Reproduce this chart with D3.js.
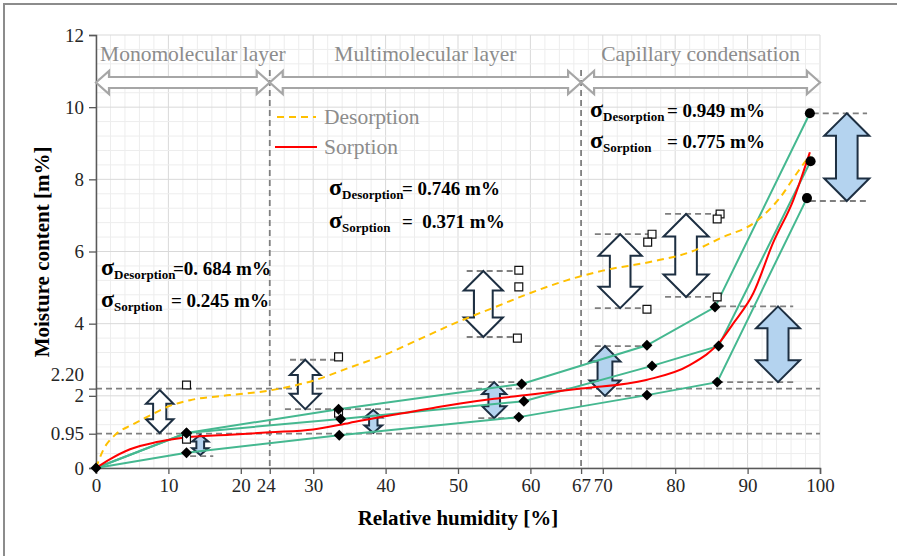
<!DOCTYPE html>
<html>
<head>
<meta charset="utf-8">
<script src="https://cdn.jsdelivr.net/npm/d3@7"></script>
<style>
  body { margin: 0; background: #fff; }
  svg, svg text { font-family: "Liberation Serif", "DejaVu Serif", serif; }
</style>
</head>
<body>
<svg id="chart" width="897" height="556" font-family="Liberation Serif, serif"></svg>
<script>
// axis ticks
const xTicks = [0, 10, 20, 24, 30, 40, 50, 60, 67, 70, 80, 90, 100];
const yTicks = [0, 0.95, 2, 2.2, 4, 6, 8, 10, 12];
const yTickLabels = ["0", "0.95", "2", "2.20", "4", "6", "8", "10", "12"];

// sorption regions
const regionBounds = [0, 24, 67, 100];
const regionNames = ["Monomolecular layer", "Multimolecular layer", "Capillary condensation"];
const refX = [24, 67];
const refY = [0.95, 2.2];

// fitted curves [RH %, moisture m%]
const desorptionCurve = [[0, 0], [1, 0.5], [2.6, 0.91], [5, 1.2], [7, 1.41], [10.2, 1.72], [13, 1.88],
  [18.5, 2.02], [24, 2.15], [30, 2.42], [35, 2.78], [40, 3.15], [45, 3.6], [50, 4.05], [55, 4.45],
  [60, 4.85], [65, 5.2], [70, 5.47], [76.5, 5.71], [82, 5.98], [86.6, 6.4], [90.8, 6.78],
  [94.5, 7.5], [96.8, 8.17], [98.6, 8.67]];
const sorptionCurve = [[0, 0], [1.9, 0.24], [4.7, 0.52], [8.4, 0.72], [12, 0.84], [18.5, 0.92],
  [24, 0.99], [30, 1.07], [35, 1.25], [39.5, 1.42], [43.4, 1.55], [47.5, 1.7], [50.3, 1.79],
  [55, 1.92], [59.5, 2.02], [67, 2.2], [76, 2.44], [82, 2.85], [86.2, 3.5], [88, 4.0],
  [90.8, 4.85], [93.5, 6.23], [96.3, 7.42], [98.6, 8.75]];

// measured sorption series
const seriesUpper = [[0, 0], [12.5, 0.97], [33.5, 1.63], [58.8, 2.33], [76.1, 3.4], [85.5, 4.46], [98.6, 9.83]];
const seriesMiddle = [[0, 0], [12.5, 0.97], [33.8, 1.36], [59.1, 1.85], [76.8, 2.83], [86, 3.38], [98.7, 8.5]];
const seriesLower = [[0, 0], [12.5, 0.42], [33.6, 0.91], [58.4, 1.41], [76.1, 2.02], [85.8, 2.38], [98.2, 7.48]];

// measured desorption points
const desorptionPoints = [[12.5, 2.3], [12.5, 0.8], [33.5, 3.08], [33.5, 1.52], [58.4, 5.48], [58.4, 5.02],
  [58.2, 3.6], [76.8, 6.48], [76.2, 6.26], [76.1, 4.4], [86.2, 7.04], [85.8, 6.9], [85.8, 4.74]];

// spread arrows [RH, low, high, kind]
const rangeArrows = [[8.8, 0.97, 2.16, "d"], [14.4, 0.36, 0.92, "s"], [28.9, 1.63, 3.0, "d"],
  [38.3, 0.97, 1.61, "s"], [53.5, 3.63, 5.46, "d"], [55.0, 1.38, 2.38, "s"], [72.4, 4.43, 6.48, "d"],
  [81.5, 4.74, 7.04, "d"], [70.3, 2.0, 3.38, "s"], [94.2, 2.38, 4.48, "s"], [103.7, 7.4, 9.83, "s"]];
// spread limits [RH from, RH to, m%]
const rangeLines = [[13.0, 16.2, 0.33], [26.8, 33.7, 3.0], [26.1, 40.6, 1.63], [51.2, 58.6, 5.46],
  [51.2, 58.1, 3.63], [52.8, 59.3, 2.38], [52.8, 58.6, 1.38], [68.9, 76.8, 6.48], [68.9, 76.1, 4.43],
  [78.6, 86.2, 7.04], [78.6, 85.8, 4.74], [68.9, 76.1, 3.38], [68.9, 76.1, 2.0], [86.2, 96.3, 4.48],
  [85.8, 96.3, 2.38], [99.0, 106.5, 9.83], [98.6, 106.5, 7.4]];

const sigmaDesorption = ["=0. 684 m%", "= 0.746 m%", "= 0.949 m%"];
const sigmaSorption = ["= 0.245 m%", "=  0.371 m%", "= 0.775 m%"];

const FONT = "'Liberation Serif', 'DejaVu Serif', serif";
const svg = d3.select("#chart");
const x = d3.scaleLinear().domain([0, 100]).range([96, 820]);
const y = d3.scaleLinear().domain([0, 12]).range([468, 35]);

// outer frame
svg.append("rect").attr("x", 4).attr("y", 4).attr("width", 905).attr("height", 570)
  .attr("fill", "none").attr("stroke", "#8c8c8c").attr("stroke-width", 2);

// grid
const grid = svg.append("g");
grid.selectAll(".vx").data(d3.range(0, 101, 2)).enter().append("line")
  .attr("x1", d => x(d)).attr("x2", d => x(d)).attr("y1", y(0)).attr("y2", y(12))
  .attr("stroke", d => d % 10 === 0 ? "#d9d9d9" : "#ededed").attr("stroke-width", 1);
grid.selectAll(".hy").data(d3.range(0, 31).map(i => i * 0.4)).enter().append("line")
  .attr("x1", x(0)).attr("x2", x(100)).attr("y1", d => y(d)).attr("y2", d => y(d))
  .attr("stroke", (d, i) => i % 5 === 0 ? "#d9d9d9" : "#ededed").attr("stroke-width", 1);

// reference dashed lines
svg.selectAll(".refx").data(refX).enter().append("line")
  .attr("x1", d => x(d)).attr("x2", d => x(d)).attr("y1", 70).attr("y2", y(0))
  .attr("stroke", "#7f7f7f").attr("stroke-width", 1.8).attr("stroke-dasharray", "6,4");
svg.selectAll(".refy").data(refY).enter().append("line")
  .attr("x1", x(0)).attr("x2", x(100)).attr("y1", d => y(d)).attr("y2", d => y(d))
  .attr("stroke", "#7f7f7f").attr("stroke-width", 1.8).attr("stroke-dasharray", "6,4");

// axes
const yAxis = svg.append("g").attr("transform", `translate(${x(0)},0)`)
  .call(d3.axisLeft(y).tickValues(yTicks).tickSize(7).tickFormat((d, i) => yTickLabels[i]));
const xAxis = svg.append("g").attr("transform", `translate(0,${y(0)})`)
  .call(d3.axisBottom(x).tickValues(xTicks).tickSize(6).tickFormat(d3.format("d")));
[xAxis, yAxis].forEach(g => {
  g.attr("font-family", FONT).attr("font-size", 19);
  g.select(".domain").attr("stroke", "#595959").attr("stroke-width", 1.5);
  g.selectAll(".tick line").attr("stroke", "#595959").attr("stroke-width", 1.3);
  g.selectAll(".tick text").attr("fill", "#262626").style("font-size", "19px")
    .style("font-family", FONT);
});
yAxis.selectAll(".tick text").attr("x", -12)
  .attr("dy", d => d === 2.2 ? "-0.42em" : "0.32em");
xAxis.selectAll(".tick text").attr("y", 11)
  .attr("dx", d => d === 24 ? "-4" : "0");

// axis titles
svg.append("text").attr("transform", "translate(49,252) rotate(-90)")
  .attr("text-anchor", "middle").style("font-size", "21px").style("font-weight", "bold")
  .style("font-family", FONT).attr("fill", "#000").text("Moisture content [m%]");
svg.append("text").attr("x", 458).attr("y", 525)
  .attr("text-anchor", "middle").style("font-size", "21px").style("font-weight", "bold")
  .style("font-family", FONT).attr("fill", "#000").text("Relative humidity [%]");

// region arrows and labels
function hArrow(x0, x1, cy, hh, sh, hl) {
  return `M${x0},${cy} L${x0 + hl},${cy - hh} L${x0 + hl},${cy - sh} L${x1 - hl},${cy - sh} ` +
    `L${x1 - hl},${cy - hh} L${x1},${cy} L${x1 - hl},${cy + hh} L${x1 - hl},${cy + sh} ` +
    `L${x0 + hl},${cy + sh} L${x0 + hl},${cy + hh} Z`;
}
regionNames.forEach((name, i) => {
  const x0 = x(regionBounds[i]), x1 = x(regionBounds[i + 1]);
  svg.append("path").attr("d", hArrow(x0, x1, 82.5, 11.5, 5.5, 13))
    .attr("fill", "#fff").attr("stroke", "#a6a6a6").attr("stroke-width", 2.2);
  svg.append("text").attr("x", (x0 + x1) / 2 + (i === 0 ? 10 : 0)).attr("y", 61)
    .attr("text-anchor", "middle").style("font-size", "21.5px").style("font-family", FONT)
    .attr("fill", "#8c8c8c").text(name);
});

// spread arrows (behind curves)
function vArrow(cx, yTop, yBot) {
  const h = yBot - yTop;
  const w = Math.min(45, 6 + 0.5 * h);
  const hl = Math.min(w * 0.5, h * 0.33), sw = w * 0.24;
  return `M${cx},${yTop} L${cx + w / 2},${yTop + hl} L${cx + sw},${yTop + hl} L${cx + sw},${yBot - hl} ` +
    `L${cx + w / 2},${yBot - hl} L${cx},${yBot} L${cx - w / 2},${yBot - hl} L${cx - sw},${yBot - hl} ` +
    `L${cx - sw},${yTop + hl} L${cx - w / 2},${yTop + hl} Z`;
}
svg.selectAll(".rl").data(rangeLines).enter().append("line")
  .attr("x1", d => x(d[0])).attr("x2", d => x(d[1])).attr("y1", d => y(d[2])).attr("y2", d => y(d[2]))
  .attr("stroke", "#7f7f7f").attr("stroke-width", 1.8).attr("stroke-dasharray", "6,4");
svg.selectAll(".ra").data(rangeArrows).enter().append("path")
  .attr("d", d => vArrow(x(d[0]), y(d[2]), y(d[1])))
  .attr("fill", d => d[3] === "s" ? "#b4d3ef" : "#fff")
  .attr("stroke", "#1d2f42").attr("stroke-width", 2).attr("stroke-linejoin", "miter");

// curves
const straight = d3.line().x(d => x(d[0])).y(d => y(d[1]));
const smooth = d3.line().x(d => x(d[0])).y(d => y(d[1])).curve(d3.curveMonotoneX);
[seriesUpper, seriesMiddle, seriesLower].forEach(s => {
  svg.append("path").attr("d", straight(s)).attr("fill", "none")
    .attr("stroke", "#45b890").attr("stroke-width", 2);
});
svg.append("path").attr("d", smooth(desorptionCurve)).attr("fill", "none")
  .attr("stroke", "#ffc000").attr("stroke-width", 2).attr("stroke-dasharray", "7,5");
svg.append("path").attr("d", smooth(sorptionCurve)).attr("fill", "none")
  .attr("stroke", "#ff0000").attr("stroke-width", 2);

// markers
const sqr = d3.symbol().type(d3.symbolSquare).size(62);
svg.selectAll(".dp").data(desorptionPoints).enter().append("path")
  .attr("d", sqr).attr("transform", d => `translate(${x(d[0])},${y(d[1])})`)
  .attr("fill", "#fff").attr("stroke", "#111").attr("stroke-width", 1.2);
const sorptionPoints = [[0, 0]].concat(...[seriesUpper, seriesMiddle, seriesLower].map(s => s.slice(1)));
const dia = d3.symbol().type(d3.symbolSquare).size(60);
const dot = d3.symbol().type(d3.symbolCircle).size(80);
svg.selectAll(".sp").data(sorptionPoints).enter().append("path")
  .attr("d", d => d[0] > 98 ? dot() : dia())
  .attr("transform", d => `translate(${x(d[0])},${y(d[1])})` + (d[0] > 98 ? "" : " rotate(45)"))
  .attr("fill", "#000");

// legend
const legend = svg.append("g");
legend.append("line").attr("x1", 277).attr("x2", 316).attr("y1", 117).attr("y2", 117)
  .attr("stroke", "#ffc000").attr("stroke-width", 2).attr("stroke-dasharray", "7,5");
legend.append("line").attr("x1", 275).attr("x2", 317).attr("y1", 147).attr("y2", 147)
  .attr("stroke", "#ff0000").attr("stroke-width", 2);
legend.append("text").attr("x", 324).attr("y", 124).style("font-size", "21.5px")
  .style("font-family", FONT).attr("fill", "#8c8c8c").text("Desorption");
legend.append("text").attr("x", 324).attr("y", 154).style("font-size", "21.5px")
  .style("font-family", FONT).attr("fill", "#8c8c8c").text("Sorption");

// sigma annotations
const sigmaPos = [[101, 275, 173, 307, 171], [329, 195, 402, 228, 402], [590, 117, 667, 148, 667]];
function sigmaText(px, py, sub, valX, val) {
  const t = svg.append("text").attr("x", px).attr("y", py).attr("fill", "#000")
    .style("font-weight", "bold").style("white-space", "pre").style("font-family", FONT);
  t.append("tspan").style("font-size", "24px").text("σ");
  t.append("tspan").style("font-size", "13px").attr("dy", 4).text(sub);
  t.append("tspan").attr("x", valX).attr("dy", -4).style("font-size", "19px").text(val);
}
sigmaPos.forEach((p, i) => {
  sigmaText(p[0], p[1], "Desorption", p[2], sigmaDesorption[i]);
  sigmaText(p[0], p[3], "Sorption", p[4], sigmaSorption[i]);
});
</script>
</body>
</html>
